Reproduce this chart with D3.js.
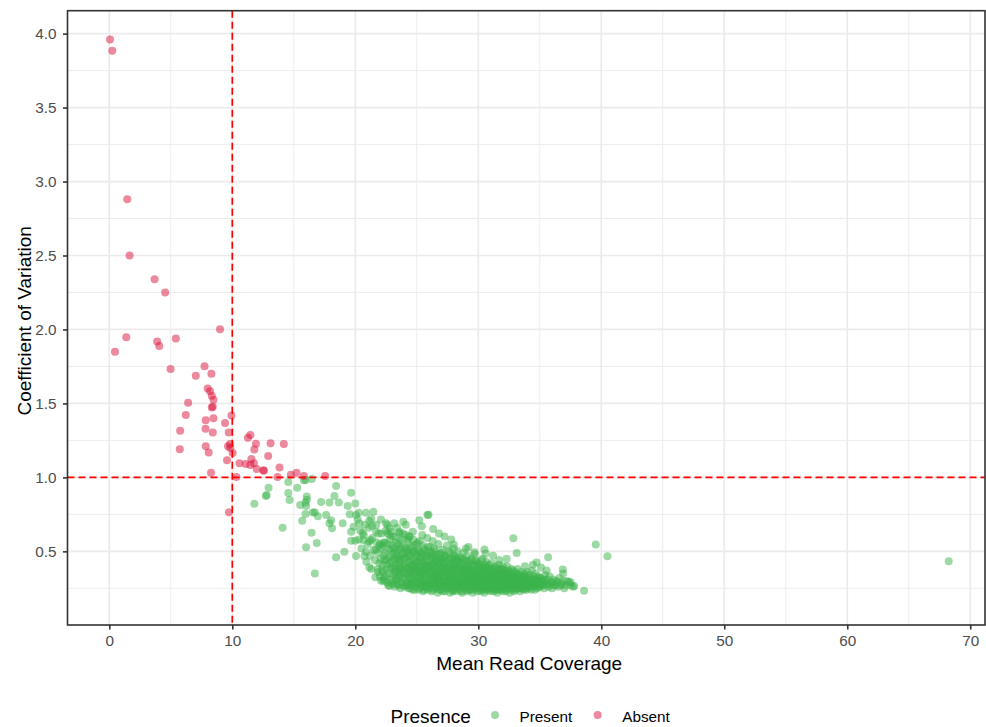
<!DOCTYPE html>
<html>
<head>
<meta charset="utf-8">
<script src="https://cdn.jsdelivr.net/npm/d3@7"></script>
<style>
	body{margin:0;background:#fff;}
	text{font-family:"Liberation Sans", Arial, Helvetica, sans-serif;}
</style>
</head>
<body>
<div id="c-svg-cv"></div>
<script>

//Data : [mean read coverage, coefficient of variation]
const absentPoints = [
	[0.06,3.96],[0.24,3.885],[1.46,2.88],[1.65,2.50],[3.68,2.34],[4.54,2.25],
	[9.0,2.002],[1.38,1.948],[3.89,1.919],[4.06,1.889],[5.41,1.939],[0.46,1.849],
	[4.98,1.732],[7.74,1.752],[7.03,1.687],[8.30,1.70],[8.0,1.601],[8.19,1.583],
	[8.33,1.552],[8.47,1.524],[8.41,1.477],[8.33,1.473],[6.41,1.504],[6.22,1.421],
	[7.84,1.387],[8.47,1.399],[9.93,1.419],[9.41,1.367],[5.76,1.315],[7.82,1.328],
	[8.41,1.304],[9.71,1.304],[11.47,1.286],[11.27,1.268],[11.92,1.227],[13.11,1.230],
	[14.19,1.225],[5.73,1.191],[7.84,1.211],[8.08,1.169],[9.65,1.211],[9.81,1.225],
	[9.84,1.198],[10.03,1.164],[11.79,1.189],[12.92,1.144],[9.57,1.115],[10.58,1.095],
	[11.09,1.09],[11.55,1.124],[11.76,1.095],[11.47,1.083],[11.98,1.056],[12.52,1.049],
	[12.57,1.045],[13.84,1.067],[13.68,1.002],[14.76,1.018],[15.22,1.031],[15.82,1.009],
	[8.27,1.031],[10.33,1.002],[9.73,0.764],[17.55,1.009]
];

const presentPoints = [
	//scattered points, left and above the main cloud
	[14.55,0.968],[15.28,0.930],[15.82,0.980],[15.95,0.982],[16.46,0.989],[12.95,0.930],
	[12.79,0.881],[12.73,0.874],[14.55,0.894],[14.66,0.847],[11.79,0.822],[16.06,0.849],
	[15.95,0.831],[15.52,0.813],[16.0,0.806],[15.95,0.752],[15.68,0.707],[16.71,0.764],
	[16.44,0.626],[14.09,0.66],[16.0,0.527],[16.71,0.351],[16.87,0.556],[16.95,0.738],
	[18.44,0.941],[18.3,0.874],[19.66,0.896],[18.66,0.83],[19.38,0.806],[17.22,0.833],
	[16.05,0.87],[16.54,0.763],[17.63,0.745],[18.03,0.71],[18.11,0.656],[18.98,0.69],
	[20.06,0.745],[20.87,0.761],[21.47,0.768],[21.14,0.707],[20.33,0.69],[22.09,0.716],
	[22.77,0.656],[19.66,0.633],[19.66,0.572],[19.11,0.498],[18.44,0.46],[20.06,0.469],
	[20.74,0.469],[21.14,0.392],[21.82,0.378],[21.63,0.324],[22.09,0.301],[22.77,0.266],
	[23.25,0.306],[20.6,0.626],[21.25,0.577],[21.65,0.509],[22.33,0.559],[22.6,0.622],
	[23.57,0.622],[24.39,0.6],[25.2,0.71],[24.67,0.633],[25.87,0.745],[20.0,0.572],
	[17.9,0.83],[20.0,0.824],[17.9,0.69],[19.55,0.75],[20.28,0.761],[20.19,0.716],
	[19.87,0.666],[21.36,0.671],[21.69,0.633],[20.65,0.577],[21.14,0.566],[20.87,0.498],
	[21.95,0.536],[22.37,0.441],[22.9,0.633],[22.5,0.69],[23.17,0.69],[25.41,0.67],
	[25.95,0.747],[26.33,0.651],[27.25,0.60],[28.0,0.547],[29.0,0.52],[29.7,0.493],
	[30.5,0.513],[30.6,0.486],[31.7,0.441],[27.8,0.58],[32.85,0.589],[33.12,0.488],
	[22.23,0.36],[22.3,0.31],[24.1,0.68],[26.8,0.62],[23.9,0.70],[31.2,0.47],
	[32.3,0.45],[29.2,0.53],[33.8,0.40],[35.1,0.39],
	//right tail
	[39.55,0.547],[40.5,0.466],[38.6,0.234],[36.87,0.378],[37.4,0.295],[37.7,0.26],
	[35.68,0.46],[34.74,0.425],[34.44,0.41],[37.8,0.265],[37.5,0.29],[68.25,0.433],
	//main cloud
	[22.1,0.52],[22.2,0.41],[22.3,0.47],[22.35,0.33],[22.4,0.56],[22.5,0.38],[22.55,0.44],[22.6,0.29],
	[22.7,0.51],[22.75,0.35],[22.8,0.42],[22.85,0.58],[22.9,0.31],[22.95,0.47],[23.0,0.39],[23.0,0.54],
	[23.1,0.28],[23.15,0.45],[23.2,0.36],[23.25,0.60],[23.3,0.50],[23.35,0.41],[23.4,0.31],[23.45,0.55],
	[23.5,0.27],[23.5,0.46],[23.55,0.38],[23.6,0.34],[23.65,0.52],[23.7,0.43],[23.75,0.29],[23.8,0.58],
	[23.8,0.37],[23.85,0.48],[23.9,0.32],[23.95,0.41],[24.0,0.26],[24.0,0.53],[23.6,0.63],[23.3,0.33],
	[24.05,0.45],[24.1,0.35],[24.1,0.61],[24.15,0.29],[24.2,0.50],[24.25,0.39],[24.3,0.25],[24.3,0.56],
	[24.35,0.43],[24.4,0.32],[24.45,0.47],[24.5,0.28],[24.5,0.37],[24.55,0.53],[24.6,0.41],[24.65,0.24],
	[24.7,0.34],[24.7,0.58],[24.75,0.45],[24.8,0.30],[24.85,0.49],[24.9,0.38],[24.9,0.26],[24.95,0.55],
	[25.0,0.42],[25.0,0.33],[24.25,0.27],[24.6,0.31],[24.4,0.60],[24.8,0.36],
	[25.05,0.29],[25.1,0.51],[25.1,0.37],[25.15,0.24],[25.2,0.45],[25.25,0.57],[25.3,0.32],[25.3,0.40],
	[25.35,0.27],[25.4,0.48],[25.45,0.35],[25.5,0.23],[25.5,0.54],[25.55,0.43],[25.6,0.30],[25.6,0.38],
	[25.65,0.26],[25.7,0.50],[25.75,0.34],[25.8,0.45],[25.8,0.28],[25.85,0.59],[25.9,0.40],[25.9,0.24],
	[25.95,0.32],[26.0,0.47],[26.0,0.36],[25.2,0.33],[25.4,0.29],[25.7,0.41],[25.45,0.61],[25.15,0.43],
	[26.05,0.27],[26.1,0.53],[26.1,0.41],[26.15,0.31],[26.2,0.23],[26.25,0.46],[26.3,0.36],[26.3,0.57],
	[26.35,0.28],[26.4,0.43],[26.45,0.33],[26.5,0.25],[26.5,0.50],[26.55,0.39],[26.6,0.30],[26.65,0.45],
	[26.7,0.22],[26.7,0.35],[26.75,0.55],[26.8,0.41],[26.85,0.27],[26.9,0.48],[26.9,0.32],[26.95,0.38],
	[27.0,0.24],[27.0,0.44],[26.2,0.38],[26.6,0.26],[26.4,0.29],[26.85,0.36],[26.3,0.48],[26.55,0.33],
	[27.05,0.30],[27.1,0.51],[27.1,0.36],[27.15,0.26],[27.2,0.42],[27.25,0.33],[27.3,0.23],[27.3,0.47],
	[27.35,0.39],[27.4,0.29],[27.45,0.54],[27.5,0.35],[27.5,0.25],[27.55,0.44],[27.6,0.31],[27.65,0.40],
	[27.7,0.22],[27.7,0.49],[27.75,0.28],[27.8,0.37],[27.85,0.33],[27.9,0.45],[27.9,0.24],[27.95,0.30],
	[28.0,0.41],[28.0,0.52],[27.2,0.28],[27.6,0.27],[27.4,0.37],[27.85,0.27],[27.15,0.45],[27.55,0.33],
	[28.05,0.26],[28.1,0.35],[28.1,0.47],[28.15,0.30],[28.2,0.23],[28.25,0.40],[28.3,0.33],[28.3,0.50],
	[28.35,0.27],[28.4,0.43],[28.45,0.36],[28.5,0.24],[28.5,0.31],[28.55,0.46],[28.6,0.38],[28.65,0.28],
	[28.7,0.22],[28.7,0.42],[28.75,0.34],[28.8,0.49],[28.85,0.29],[28.9,0.37],[28.9,0.25],[28.95,0.44],
	[29.0,0.32],[29.0,0.27],[28.2,0.29],[28.45,0.26],[28.8,0.31],[28.35,0.38],[28.65,0.35],[28.05,0.43],
	[29.05,0.39],[29.1,0.23],[29.1,0.47],[29.15,0.30],[29.2,0.35],[29.25,0.26],[29.3,0.42],[29.3,0.31],
	[29.35,0.24],[29.4,0.37],[29.45,0.45],[29.5,0.28],[29.5,0.33],[29.55,0.22],[29.6,0.40],[29.65,0.29],
	[29.7,0.36],[29.7,0.48],[29.75,0.25],[29.8,0.32],[29.85,0.43],[29.9,0.27],[29.9,0.38],[29.95,0.23],
	[30.0,0.34],[30.0,0.30],[29.2,0.28],[29.6,0.26],[29.4,0.32],[29.8,0.28],[29.25,0.37],[29.65,0.34],
	[30.05,0.41],[30.1,0.26],[30.1,0.36],[30.15,0.31],[30.2,0.23],[30.25,0.44],[30.3,0.29],[30.3,0.38],
	[30.35,0.33],[30.4,0.25],[30.45,0.40],[30.5,0.30],[30.5,0.22],[30.55,0.35],[30.6,0.27],[30.65,0.43],
	[30.7,0.32],[30.7,0.24],[30.75,0.37],[30.8,0.28],[30.85,0.41],[30.9,0.33],[30.9,0.25],[30.95,0.30],
	[31.0,0.38],[31.0,0.23],[30.2,0.34],[30.6,0.31],[30.4,0.28],[30.8,0.35],[30.35,0.45],[30.15,0.27],
	[31.05,0.29],[31.1,0.34],[31.1,0.42],[31.15,0.26],[31.2,0.31],[31.25,0.23],[31.3,0.37],[31.3,0.28],
	[31.35,0.33],[31.4,0.40],[31.45,0.25],[31.5,0.30],[31.5,0.36],[31.55,0.22],[31.6,0.27],[31.65,0.34],
	[31.7,0.41],[31.7,0.29],[31.75,0.24],[31.8,0.32],[31.85,0.38],[31.9,0.26],[31.9,0.30],[31.95,0.35],
	[32.0,0.23],[32.0,0.40],[31.2,0.27],[31.6,0.31],[31.4,0.29],[31.8,0.27],
	[32.05,0.28],[32.1,0.33],[32.1,0.25],[32.15,0.37],[32.2,0.30],[32.25,0.23],[32.3,0.35],[32.3,0.27],
	[32.35,0.40],[32.4,0.31],[32.45,0.25],[32.5,0.29],[32.5,0.36],[32.55,0.22],[32.6,0.33],[32.65,0.27],
	[32.7,0.38],[32.7,0.30],[32.75,0.24],[32.8,0.34],[32.85,0.28],[32.9,0.31],[32.9,0.23],[32.95,0.36],
	[33.0,0.27],[33.0,0.32],[32.2,0.26],[32.6,0.29],[32.4,0.34],[32.8,0.26],
	[33.05,0.24],[33.1,0.30],[33.1,0.35],[33.15,0.27],[33.2,0.38],[33.25,0.32],[33.3,0.25],[33.3,0.29],
	[33.35,0.34],[33.4,0.23],[33.45,0.31],[33.5,0.27],[33.5,0.36],[33.55,0.25],[33.6,0.30],[33.65,0.33],
	[33.7,0.24],[33.7,0.28],[33.75,0.35],[33.8,0.31],[33.85,0.26],[33.9,0.33],[33.9,0.24],[33.95,0.29],
	[34.0,0.36],[34.0,0.27],
	[34.05,0.31],[34.1,0.25],[34.15,0.34],[34.2,0.28],[34.25,0.32],[34.3,0.24],[34.35,0.37],[34.4,0.29],
	[34.45,0.26],[34.5,0.33],[34.55,0.30],[34.6,0.24],[34.65,0.35],[34.7,0.27],[34.75,0.31],[34.8,0.25],
	[34.85,0.33],[34.9,0.28],[34.95,0.30],[35.0,0.26],
	[35.1,0.32],[35.2,0.27],[35.3,0.30],[35.35,0.25],[35.45,0.34],[35.5,0.28],[35.6,0.31],[35.7,0.26],
	[35.8,0.33],[35.9,0.29],[36.0,0.25],[36.1,0.31],[36.2,0.27],[36.35,0.30],[36.5,0.26],[36.6,0.32],
	[36.8,0.28],[37.0,0.25],[37.2,0.30],[37.5,0.27],[36.9,0.35],[35.55,0.37],
	//main cloud, second pass
	[20.5,0.52],[20.7,0.61],[20.9,0.43],[21.0,0.55],[21.1,0.66],[21.2,0.47],[21.3,0.38],[21.4,0.59],
	[21.5,0.51],[21.6,0.44],[21.7,0.68],[21.75,0.56],[21.8,0.49],[21.85,0.36],[21.9,0.62],[21.95,0.42],
	[22.0,0.55],[22.0,0.33],[20.8,0.68],[21.3,0.72],[20.3,0.58],[20.4,0.64],
	[22.07,0.45],[22.12,0.62],[22.18,0.37],[22.22,0.54],[22.28,0.30],[22.42,0.49],[22.47,0.64],[22.53,0.33],
	[22.58,0.41],[22.63,0.55],[22.68,0.27],[22.72,0.46],[22.78,0.61],[22.83,0.38],[22.88,0.52],[22.93,0.29],
	[22.97,0.43],[23.03,0.60],[23.07,0.34],[23.12,0.49],[23.18,0.40],[23.22,0.26],[23.27,0.56],[23.32,0.45],
	[23.38,0.36],[23.42,0.28],[23.47,0.51],[23.53,0.42],[23.58,0.32],[23.62,0.57],[23.67,0.25],[23.72,0.39],
	[23.77,0.47],[23.82,0.27],[23.88,0.62],[23.92,0.35],[23.97,0.49],[23.4,0.66],[22.6,0.68],
	[24.02,0.31],[24.08,0.40],[24.12,0.27],[24.18,0.46],[24.22,0.34],[24.27,0.58],[24.33,0.29],[24.38,0.51],
	[24.42,0.38],[24.47,0.25],[24.52,0.44],[24.57,0.32],[24.62,0.49],[24.67,0.28],[24.72,0.40],[24.77,0.54],
	[24.82,0.24],[24.87,0.34],[24.92,0.44],[24.97,0.29],[25.02,0.37],[25.07,0.56],[25.12,0.28],[25.17,0.40],
	[25.22,0.25],[25.27,0.49],[25.32,0.35],[25.37,0.43],[25.42,0.26],[25.47,0.38],[25.52,0.31],[25.57,0.52],
	[25.62,0.24],[25.67,0.36],[25.72,0.29],[25.77,0.47],[25.82,0.39],[25.87,0.26],[25.92,0.53],[25.97,0.30],
	[24.55,0.27],[25.25,0.30],[25.75,0.26],[24.35,0.35],[25.55,0.34],
	[26.02,0.25],[26.07,0.40],[26.12,0.34],[26.17,0.49],[26.22,0.28],[26.27,0.42],[26.32,0.24],[26.37,0.37],
	[26.42,0.52],[26.47,0.30],[26.52,0.44],[26.57,0.26],[26.62,0.35],[26.67,0.48],[26.72,0.29],[26.77,0.39],
	[26.82,0.24],[26.87,0.43],[26.92,0.34],[26.97,0.27],[27.02,0.49],[27.07,0.38],[27.12,0.23],[27.17,0.32],
	[27.22,0.47],[27.27,0.27],[27.32,0.36],[27.37,0.43],[27.42,0.25],[27.47,0.31],[27.52,0.40],[27.57,0.29],
	[27.62,0.50],[27.67,0.34],[27.72,0.26],[27.77,0.42],[27.82,0.30],[27.87,0.38],[27.92,0.23],[27.97,0.47],
	[26.45,0.27],[26.95,0.30],[27.45,0.27],[27.95,0.34],[26.25,0.32],[26.75,0.31],[27.25,0.30],[27.75,0.33],
	[28.02,0.33],[28.07,0.24],[28.12,0.39],[28.17,0.27],[28.22,0.45],[28.27,0.31],[28.32,0.25],[28.37,0.35],
	[28.42,0.29],[28.47,0.41],[28.52,0.27],[28.57,0.33],[28.62,0.23],[28.67,0.45],[28.72,0.30],[28.77,0.38],
	[28.82,0.26],[28.87,0.34],[28.92,0.29],[28.97,0.40],[29.02,0.24],[29.07,0.35],[29.12,0.28],[29.17,0.43],
	[29.22,0.32],[29.27,0.24],[29.32,0.38],[29.37,0.29],[29.42,0.26],[29.47,0.34],[29.52,0.41],[29.57,0.30],
	[29.62,0.24],[29.67,0.37],[29.72,0.27],[29.77,0.44],[29.82,0.31],[29.87,0.25],[29.92,0.34],[29.97,0.28],
	[28.25,0.27],[28.75,0.27],[29.25,0.30],[29.75,0.30],[28.55,0.30],[29.45,0.27],
	[30.02,0.26],[30.07,0.32],[30.12,0.40],[30.17,0.24],[30.22,0.29],[30.27,0.35],[30.32,0.26],[30.37,0.31],
	[30.42,0.37],[30.47,0.24],[30.52,0.33],[30.57,0.28],[30.62,0.39],[30.67,0.26],[30.72,0.30],[30.77,0.34],
	[30.82,0.24],[30.87,0.29],[30.92,0.37],[30.97,0.27],[31.02,0.32],[31.07,0.25],[31.12,0.30],[31.17,0.38],
	[31.22,0.28],[31.27,0.33],[31.32,0.24],[31.37,0.31],[31.42,0.35],[31.47,0.27],[31.52,0.24],[31.57,0.32],
	[31.62,0.38],[31.67,0.26],[31.72,0.31],[31.77,0.28],[31.82,0.35],[31.87,0.24],[31.92,0.33],[31.97,0.28],
	[30.25,0.27],[30.75,0.27],[31.25,0.26],[31.75,0.26],
	[32.02,0.31],[32.07,0.26],[32.12,0.35],[32.17,0.28],[32.22,0.33],[32.27,0.24],[32.32,0.30],[32.37,0.27],
	[32.42,0.37],[32.47,0.28],[32.52,0.32],[32.57,0.25],[32.62,0.35],[32.67,0.29],[32.72,0.26],[32.77,0.31],
	[32.82,0.37],[32.87,0.25],[32.92,0.29],[32.97,0.33],[33.02,0.26],[33.07,0.31],[33.12,0.28],[33.17,0.34],
	[33.22,0.25],[33.27,0.29],[33.32,0.33],[33.37,0.27],[33.42,0.30],[33.47,0.25],[33.52,0.32],[33.57,0.28],
	[33.62,0.26],[33.67,0.31],[33.72,0.34],[33.77,0.27],[33.82,0.29],[33.87,0.25],[33.92,0.31],[33.97,0.27],
	[34.07,0.28],[34.17,0.31],[34.27,0.26],[34.37,0.30],[34.47,0.28],[34.57,0.27],[34.67,0.31],[34.77,0.28],
	[34.87,0.26],[34.97,0.32],[35.07,0.28],[35.17,0.30],[35.27,0.27],[35.4,0.31],[35.65,0.28],[35.85,0.27],
	[36.05,0.29],[36.3,0.27],[36.45,0.29],[36.7,0.27],[36.9,0.30],[37.1,0.27],
	//main cloud, upper and middle part of the core
	[23.15,0.52],[23.35,0.47],[23.55,0.44],[23.75,0.53],[23.95,0.45],[24.15,0.52],[24.35,0.48],[24.55,0.41],
	[24.75,0.50],[24.95,0.47],[25.15,0.50],[25.35,0.46],[25.55,0.48],[25.75,0.43],[25.95,0.50],[26.15,0.45],
	[26.35,0.41],[26.55,0.47],[26.75,0.44],[26.95,0.42],[27.15,0.40],[27.35,0.46],[27.55,0.38],[27.75,0.45],
	[27.95,0.39],[28.15,0.42],[28.35,0.45],[28.55,0.40],[28.75,0.44],[28.95,0.38],[29.15,0.40],[29.35,0.44],
	[29.55,0.37],[29.75,0.41],[29.95,0.42],[30.15,0.39],[30.35,0.36],[30.55,0.41],[30.75,0.39],[30.95,0.35],
	[31.15,0.36],[31.35,0.39],[31.55,0.34],[31.75,0.37],[31.95,0.38],
	[23.25,0.38],[23.65,0.36],[24.05,0.39],[24.45,0.36],[24.85,0.40],[25.25,0.37],[25.65,0.40],[26.05,0.35],
	[26.45,0.38],[26.85,0.33],[27.25,0.38],[27.65,0.35],[28.05,0.37],[28.45,0.33],[28.85,0.36],[29.25,0.33],
	[29.65,0.31],[30.05,0.36],[30.45,0.33],[30.85,0.31],[31.25,0.34],[31.65,0.33],[32.05,0.35],[32.45,0.33],
	[32.85,0.32],[33.25,0.30],[33.65,0.32],[34.05,0.29],[34.45,0.31],[34.85,0.29]
];

//Axis ticks
const xTicks = [0, 10, 20, 30, 40, 50, 60, 70];
const xMinorTicks = [5, 15, 25, 35, 45, 55, 65];
const yTicks = [0.5, 1.0, 1.5, 2.0, 2.5, 3.0, 3.5, 4.0];
const yMinorTicks = [0.25, 0.75, 1.25, 1.75, 2.25, 2.75, 3.25, 3.75];

//Thresholds (dashed lines)
const coverageThreshold = 10;
const cvThreshold = 1.0;

//Legend
const legendKeys = ["Present", "Absent"];
const legendColors = ["#3cb44b", "#dc143c"];


function graphCV(){

	//sizing
	let margin = {top:10.7, right:1, bottom:102, left:67.5};
	let width = 986;
	let height = 727;

	//initiate svg
	let svg = d3.select("#c-svg-cv")
		.append("svg")
		.attr("width", width)
		.attr("height", height);

	//scales
	const xScale = d3.scaleLinear()
		.domain([-3.4, 71.2])
		.range([margin.left, width-margin.right]);

	const yScale = d3.scaleLinear()
		.domain([0.002, 4.155])
		.range([height-margin.bottom, margin.top]);

	const color = d3.scaleOrdinal()
		.domain(legendKeys)
		.range(legendColors);

	//grid, minor lines
	let grid = svg.append("g").attr("class", "grid");

	grid.selectAll(".xminor")
		.data(xMinorTicks)
		.join("line")
		.attr("x1", (d)=>xScale(d))
		.attr("x2", (d)=>xScale(d))
		.attr("y1", margin.top)
		.attr("y2", height-margin.bottom)
		.attr("stroke", "#ebebeb")
		.attr("stroke-width", 0.9);

	grid.selectAll(".yminor")
		.data(yMinorTicks)
		.join("line")
		.attr("x1", margin.left)
		.attr("x2", width-margin.right)
		.attr("y1", (d)=>yScale(d))
		.attr("y2", (d)=>yScale(d))
		.attr("stroke", "#ebebeb")
		.attr("stroke-width", 0.9);

	//grid, major lines
	grid.selectAll(".xmajor")
		.data(xTicks)
		.join("line")
		.attr("x1", (d)=>xScale(d))
		.attr("x2", (d)=>xScale(d))
		.attr("y1", margin.top)
		.attr("y2", height-margin.bottom)
		.attr("stroke", "#ebebeb")
		.attr("stroke-width", 1.7);

	grid.selectAll(".ymajor")
		.data(yTicks)
		.join("line")
		.attr("x1", margin.left)
		.attr("x2", width-margin.right)
		.attr("y1", (d)=>yScale(d))
		.attr("y2", (d)=>yScale(d))
		.attr("stroke", "#ebebeb")
		.attr("stroke-width", 1.7);

	//points
	svg.append("g")
		.attr("class", "present")
		.selectAll("circle")
		.data(presentPoints)
		.join("circle")
		.attr("cx", (d)=>xScale(d[0]))
		.attr("cy", (d)=>yScale(d[1]))
		.attr("r", 4)
		.attr("fill", color("Present"))
		.attr("fill-opacity", 0.5);

	svg.append("g")
		.attr("class", "absent")
		.selectAll("circle")
		.data(absentPoints)
		.join("circle")
		.attr("cx", (d)=>xScale(d[0]))
		.attr("cy", (d)=>yScale(d[1]))
		.attr("r", 4)
		.attr("fill", color("Absent"))
		.attr("fill-opacity", 0.5);

	//threshold lines
	svg.append("line")
		.attr("x1", xScale(coverageThreshold))
		.attr("x2", xScale(coverageThreshold))
		.attr("y1", margin.top)
		.attr("y2", height-margin.bottom)
		.attr("stroke", "#ff0000")
		.attr("stroke-width", 1.7)
		.attr("stroke-dasharray", "7,4");

	svg.append("line")
		.attr("x1", margin.left)
		.attr("x2", width-margin.right)
		.attr("y1", yScale(cvThreshold))
		.attr("y2", yScale(cvThreshold))
		.attr("stroke", "#ff0000")
		.attr("stroke-width", 1.7)
		.attr("stroke-dasharray", "7,4");

	//axes
	const xAxis = d3.axisBottom(xScale)
		.tickValues(xTicks)
		.tickSize(4.5)
		.tickPadding(6)
		.tickSizeOuter(0)
		.tickFormat(d3.format("d"));

	const yAxis = d3.axisLeft(yScale)
		.tickValues(yTicks)
		.tickSize(4.5)
		.tickPadding(6.5)
		.tickSizeOuter(0)
		.tickFormat(d3.format(".1f"));

	svg.append("g")
		.attr("class", "axis x_axis")
		.attr("transform", `translate(0,${height-margin.bottom})`)
		.call(xAxis);

	svg.append("g")
		.attr("class", "axis y_axis")
		.attr("transform", `translate(${margin.left},0)`)
		.call(yAxis);

	svg.selectAll(".axis .domain").remove();
	svg.selectAll(".axis line")
		.attr("stroke", "#333333")
		.attr("stroke-width", 1.6);
	svg.selectAll(".axis text")
		.attr("fill", "#4d4d4d")
		.style("font-family", "\"Liberation Sans\", Arial, sans-serif")
		.style("font-size", "15.3px");

	//panel border
	svg.append("rect")
		.attr("x", margin.left)
		.attr("y", margin.top)
		.attr("width", width-margin.right-margin.left)
		.attr("height", height-margin.bottom-margin.top)
		.attr("fill", "none")
		.attr("stroke", "#333333")
		.attr("stroke-width", 1.6);

	//axis titles
	svg.append("text")
		.attr("x", (margin.left + width - margin.right)/2 + 3)
		.attr("y", 670)
		.attr("text-anchor", "middle")
		.attr("fill", "#000")
		.style("font-size", "19px")
		.text("Mean Read Coverage");

	svg.append("text")
		.attr("transform", `translate(30.5,${(margin.top + height - margin.bottom)/2 + 3}) rotate(-90)`)
		.attr("text-anchor", "middle")
		.attr("fill", "#000")
		.style("font-size", "19px")
		.text("Coefficient of Variation");

	//legend
	let legend = svg.append("g").attr("class", "legend");

	legend.append("text")
		.attr("x", 390.5)
		.attr("y", 722.5)
		.attr("fill", "#000")
		.style("font-size", "19px")
		.text("Presence");

	const legendX = [495, 597.7];

	legend.selectAll("circle")
		.data(legendKeys)
		.join("circle")
		.attr("cx", (d, i)=>legendX[i])
		.attr("cy", 715)
		.attr("r", 4)
		.attr("fill", (d)=>color(d))
		.attr("fill-opacity", 0.5);

	legend.selectAll(".legend-label")
		.data(legendKeys)
		.join("text")
		.attr("class", "legend-label")
		.attr("x", (d, i)=>legendX[i] + 24.5)
		.attr("y", 721.5)
		.attr("fill", "#000")
		.style("font-size", "15.3px")
		.text((d)=>d);

}

graphCV();
</script>
</body>
</html>
